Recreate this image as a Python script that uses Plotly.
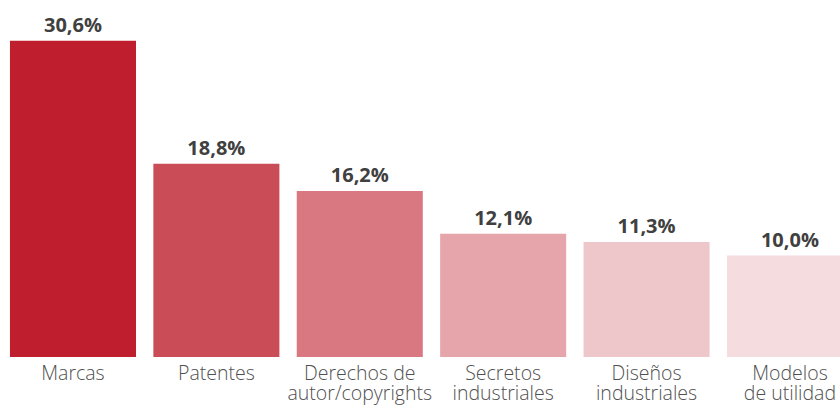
import plotly.graph_objects as go

categories = ['Marcas', 'Patentes', 'Derechos de autor/copyrights',
              'Secretos industriales', 'Diseños industriales', 'Modelos de utilidad']
label_line1 = ['Marcas', 'Patentes', 'Derechos de', 'Secretos', 'Diseños', 'Modelos']
label_line2 = ['', '', 'autor/copyrights', 'industriales', 'industriales', 'de utilidad']
values = [30.6, 18.8, 16.2, 12.1, 11.3, 10.0]
colors = ['#BE1E2D', '#C94C57', '#D97880', '#E5A5AB', '#EEC7CB', '#F5DCDF']

fig = go.Figure()
fig.add_trace(go.Bar(
    x=categories,
    y=values,
    marker=dict(color=colors, line=dict(width=0)),
    texttemplate='%{y:.1f}%',
    textposition='outside',
    cliponaxis=False,
    textfont=dict(family='Open Sans', size=20, color='#404040', weight=700),
    hoverinfo='skip',
))
# invisible trace so the second row of labels has its own axis
fig.add_trace(go.Scatter(
    x=categories, y=[0] * len(categories), xaxis='x2', mode='none',
    hoverinfo='skip', showlegend=False,
))

xrange = [-0.509, 5.349]
tickfont = dict(family='Open Sans', size=19.5, color='#505050', weight=300)

fig.update_layout(
    width=840, height=406,
    margin=dict(l=0, r=0, t=0, b=46),
    paper_bgcolor='white',
    plot_bgcolor='white',
    separators=',.',
    showlegend=False,
    bargap=0.121,
    xaxis=dict(
        range=xrange, tickmode='array', tickvals=categories, ticktext=label_line1,
        showgrid=False, showline=False, zeroline=False, ticks='',
        tickfont=tickfont, ticklabelstandoff=2,
    ),
    xaxis2=dict(
        range=xrange, overlaying='x', anchor='y', side='bottom',
        tickmode='array', tickvals=categories, ticktext=label_line2,
        showgrid=False, showline=False, zeroline=False, ticks='',
        tickfont=tickfont, ticklabelstandoff=22,
    ),
    # base sits a little above zero in the original, so bars are clipped there
    yaxis=dict(range=[0.28, 34.5], visible=False),
)

# page has a default body margin; drop it so the figure sits at the corner
fig.write_html("out.html", config={'displayModeBar': False},
               post_script="document.body.style.margin='0';")
